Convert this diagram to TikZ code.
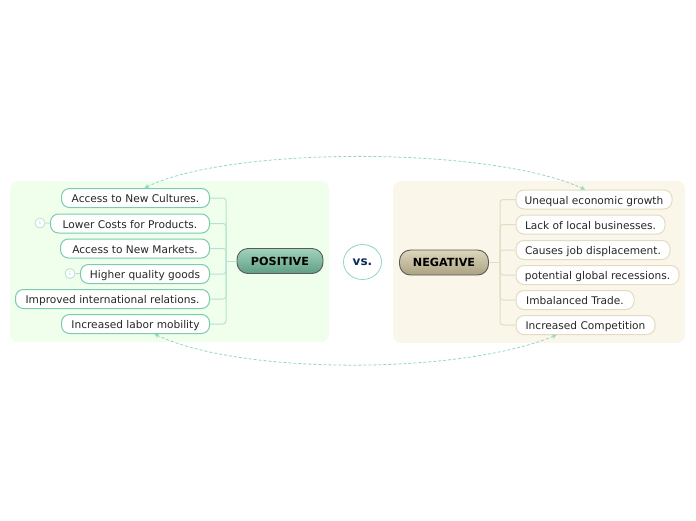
\documentclass[tikz,border=0pt]{standalone}
\usepackage{fontspec}
\setmainfont{DejaVu Sans}
\usepackage{tikz}
\usetikzlibrary{arrows.meta, positioning, shapes.geometric}
\definecolor{posline}{HTML}{7CCBAE}
\definecolor{posbranch}{HTML}{B5E3CF}
\definecolor{negline}{HTML}{E3DCC0}
\definecolor{linkcol}{HTML}{8FD6C6}
\definecolor{navy}{HTML}{0B2A5B}
\definecolor{posarea}{HTML}{F0FFEC}
\definecolor{negarea}{HTML}{FAF6EA}
\definecolor{postop}{HTML}{A3D3BC}
\definecolor{posbot}{HTML}{5F9E85}
\definecolor{negtop}{HTML}{DDD6BA}
\definecolor{negbot}{HTML}{ABA283}
\tikzset{
  panelbox/.style={rounded corners=8pt, inner sep=0pt},
  posbox/.style={draw=posline, fill=white, rounded corners=8pt, line width=1pt, font=\fontsize{10.6}{12}\selectfont,
                 text=black!85, inner xsep=2pt, inner ysep=0pt, minimum height=19pt, text height=9pt, text depth=0pt, anchor=east},
  negbox/.style={posbox, draw=negline, anchor=west},
  mainbox/.style={draw=black!65, rounded corners=11pt, line width=0.9pt, font=\fontsize{11.2}{12}\selectfont\bfseries,
                  inner sep=0pt, minimum height=25pt, text height=8.5pt, text depth=0pt},
  iconmark/.style={circle, draw=posbranch, fill=white, line width=0.8pt, inner sep=0pt, minimum size=10pt,
                   text=posbranch, font=\fontsize{5}{5}\selectfont},
  branchpos/.style={draw=posbranch, line width=1pt, rounded corners=3pt},
  branchneg/.style={draw=negline, line width=1pt, rounded corners=3pt},
  linkarr/.style={{Stealth[length=4.5pt,width=4.5pt]}-{Stealth[length=4.5pt,width=4.5pt]}, draw=linkcol,
                  dash pattern=on 3pt off 2pt, line width=0.8pt},
}
\begin{document}
\begin{tikzpicture}[x=1pt, y=-1pt]
  \useasboundingbox (0,0) rectangle (696,520);
  \node[panelbox, fill=posarea, minimum width=319pt, minimum height=161pt] (leftarea) at (169.5,261.5) {};
  \node[panelbox, fill=negarea, minimum width=292pt, minimum height=162pt] (rightarea) at (539,262) {};

  \node[mainbox, top color=postop, bottom color=posbot, minimum width=86pt] (pos) at (280,261) {POSITIVE};
  \node[mainbox, top color=negtop, bottom color=negbot, minimum width=89pt] (neg) at (444,262.5) {NEGATIVE};
  \node[ellipse, draw=linkcol, fill=white, line width=0.8pt, minimum width=38pt, minimum height=35pt, inner sep=0pt, text=navy,
        font=\fontsize{12}{12}\selectfont\bfseries] (vs) at (362.5,262) {vs.};

  \coordinate (postrunk) at (226,261);
  \coordinate (negtrunk) at (500,262.5);

  \node[posbox, minimum width=148pt] (lc1) at (210,198) {Access to New Cultures.};
  \node[posbox, minimum width=159pt] (lc2) at (210,223.5) {Lower Costs for Products.};
  \node[posbox, minimum width=149pt] (lc3) at (210,248.5) {Access to New Markets.};
  \node[posbox, minimum width=129pt] (lc4) at (210,274) {Higher quality goods};
  \node[posbox, minimum width=194pt] (lc5) at (210,299) {Improved international relations.};
  \node[posbox, minimum width=148pt] (lc6) at (210,324) {Increased labor mobility};

  \node[negbox, minimum width=156pt] (rc1) at (515.5,199.5) {Unequal economic growth};
  \node[negbox, minimum width=149pt] (rc2) at (515.5,224.5) {Lack of local businesses.};
  \node[negbox, minimum width=154pt] (rc3) at (515.5,250) {Causes job displacement.};
  \node[negbox, minimum width=163pt] (rc4) at (515.5,275) {potential global recessions.};
  \node[negbox, minimum width=118pt] (rc5) at (515.5,300) {Imbalanced Trade.};
  \node[negbox, minimum width=139pt] (rc6) at (515.5,325) {Increased Competition};

  \node[iconmark] (ic2) at (40,223) {1};
  \node[iconmark] (ic4) at (70,273.5) {1};
  \draw[branchpos] (ic2) -- (lc2);
  \draw[branchpos] (ic4) -- (lc4);

  \foreach \a in {lc1, lc2, lc3, lc4, lc5, lc6} {
    \draw[branchpos] (\a.east) -| (postrunk);
  }
  \draw[branchpos] (postrunk) -- (pos);
  \foreach \a in {rc1, rc2, rc3, rc4, rc5, rc6} {
    \draw[branchneg] (\a.west) -| (negtrunk);
  }
  \draw[branchneg] (negtrunk) -- (neg);

  \draw[linkarr] ([xshift=9pt]lc1.north) .. controls (230,146) and (490,146) .. ([xshift=-9pt]rc1.north);
  \draw[linkarr] ([xshift=19pt]lc6.south) .. controls (240,375) and (460,375) .. ([xshift=-29pt]rc6.south);
\end{tikzpicture}
\end{document}
